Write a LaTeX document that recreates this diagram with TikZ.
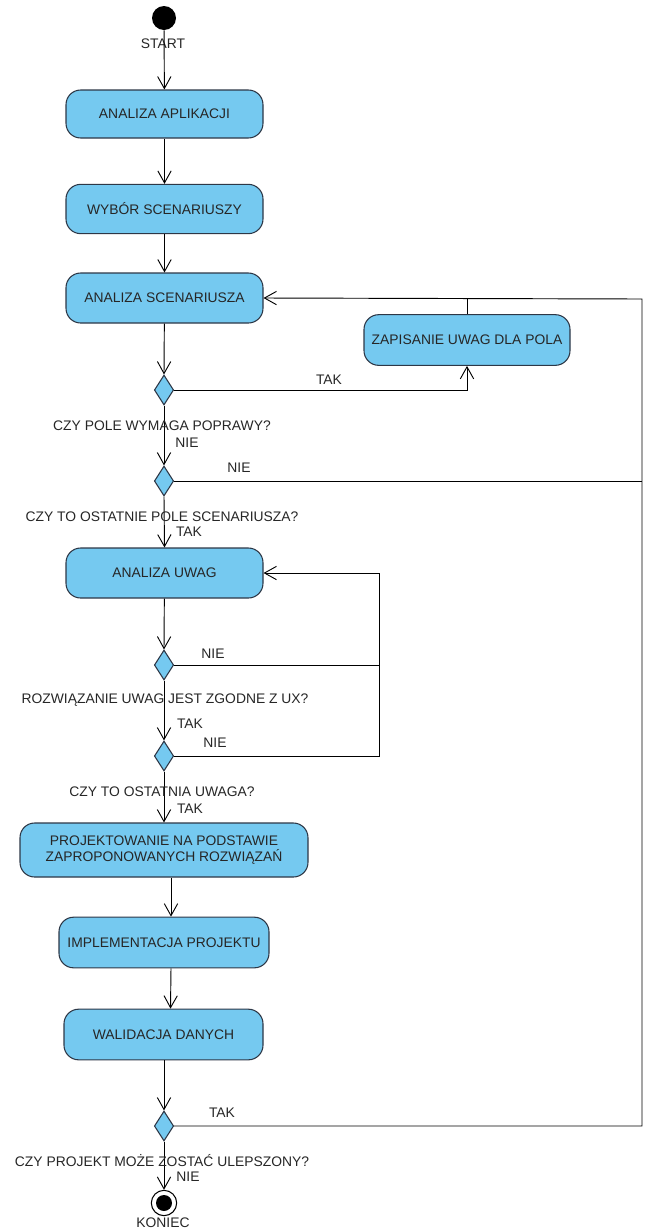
\documentclass[tikz,border=0pt]{standalone}
\usepackage{fontspec}
\setmainfont{Liberation Sans}
\usetikzlibrary{arrows.meta,shapes.geometric}
\definecolor{boxblue}{RGB}{117,201,240}
\definecolor{edgegray}{RGB}{45,55,70}
\begin{document}
\begin{tikzpicture}[x=0.75pt,y=-0.75pt,line width=0.7pt,>={Straight Barb[length=9pt,width=10pt]},
	every node/.style={font=\fontsize{10.4}{12.5}\selectfont,text=black!85},
	akcja/.style={draw=edgegray,fill=boxblue,rounded corners=11pt,line width=0.8pt,align=center,inner sep=2pt},
	decyzja/.style={draw=edgegray,fill=boxblue,diamond,line width=0.8pt,minimum width=14.5pt,minimum height=22.5pt,inner sep=0pt},
	opis/.style={inner sep=0pt}]
	\useasboundingbox (0,0) rectangle (644,1232);
	\def\xr{642} % prawa linia powrotu
	\def\xu{379} % linia powrotu uwag
	% start i akcje
	\node[circle,fill=black,minimum size=18pt,inner sep=0pt] (start) at (164,18) {};
	\node[opis] (startlbl) at (163,44) {START};
	\node[akcja,minimum width=147.75pt,minimum height=36pt] (app) at (164.5,114) {ANALIZA APLIKACJI};
	\node[akcja,minimum width=147.75pt,minimum height=37pt] (wyb) at (164.5,209) {WYBÓR SCENARIUSZY};
	\node[akcja,minimum width=147.75pt,minimum height=37.5pt] (scen) at (164.5,298) {ANALIZA SCENARIUSZA};
	\node[akcja,minimum width=154.5pt,minimum height=38pt] (zap) at (467,340) {ZAPISANIE UWAG DLA POLA};
	\node[decyzja] (d1) at (164,390) {};
	\node[decyzja] (d2) at (164,481) {};
	\node[akcja,minimum width=147.75pt,minimum height=37.5pt] (uwag) at (164.5,573) {ANALIZA UWAG};
	\node[decyzja] (d3) at (164,665) {};
	\node[decyzja] (d4) at (164,756) {};
	\node[akcja,minimum width=216pt,minimum height=40.5pt] (proj) at (164,850) {PROJEKTOWANIE NA PODSTAWIE\\ZAPROPONOWANYCH ROZWIĄZAŃ};
	\node[akcja,minimum width=157.5pt,minimum height=38pt] (impl) at (164,942.5) {IMPLEMENTACJA PROJEKTU};
	\node[akcja,minimum width=149.25pt,minimum height=38pt] (wal) at (163.5,1034.5) {WALIDACJA DANYCH};
	\node[decyzja] (d5) at (164,1126) {};
	\node[circle,draw=black,line width=0.8pt,minimum size=19pt,inner sep=0pt] (koniec) at (164,1203) {};
	\fill[black] (koniec.center) circle (6pt);
	\node[opis] (konieclbl) at (163,1223) {KONIEC};
	% punkty zalaman
	\coordinate (rtop) at (\xr,299);
	\coordinate (zaptop) at (467,299);
	\coordinate (utop) at (\xu,573);
	% strzalki glowne
	\draw[->] (start) -- (app);
	\draw[->] (app) -- (wyb);
	\draw[->] (wyb) -- (scen);
	\draw[->] (scen) -- (d1.north);
	\draw[->] (d1.east) -| (zap.south);
	\draw (zap.north) -- (zaptop);
	\draw[->] (d1.south) -- (d2.north);
	\draw (d2.east) -- (d2.east -| rtop);
	\draw[->] (d5.east) -| (rtop) -- (scen.east);
	\draw[->] (d2.south) -- (uwag.north);
	\draw[->] (uwag) -- (d3.north);
	\draw[->] (d4.east) -| (utop) -- (uwag.east);
	\draw (d3.east) -- (d3.east -| utop);
	\draw[->] (d3.south) -- (d4.north);
	\draw[->] (d4.south) -- (proj.north);
	\draw[->] ([xshift=5.25pt]proj.south) -- ([xshift=5.25pt]impl.north);
	\draw[->] ([xshift=5.25pt]impl.south) -- ([xshift=5.25pt]wal.north);
	\draw[->] (wal.south -| d5) -- (d5.north);
	\draw[->] (d5.south) -- (koniec.north);
	% opisy decyzji
	\node[opis] (t1) at (329,380) {TAK};
	\node[opis] (q1) at (162,426) {CZY POLE WYMAGA POPRAWY?};
	\node[opis] (n1) at (187,443) {NIE};
	\node[opis] (n2) at (239,468) {NIE};
	\node[opis] (q2) at (162,517) {CZY TO OSTATNIE POLE SCENARIUSZA?};
	\node[opis] (t2) at (189,532) {TAK};
	\node[opis] (n3) at (213,654) {NIE};
	\node[opis] (q3) at (165,700) {ROZWIĄZANIE UWAG JEST ZGODNE Z UX?};
	\node[opis] (t3) at (190,724) {TAK};
	\node[opis] (n4) at (215,743) {NIE};
	\node[opis] (q4) at (162,792) {CZY TO OSTATNIA UWAGA?};
	\node[opis] (t4) at (190,809) {TAK};
	\node[opis] (t5) at (222,1113) {TAK};
	\node[opis] (q5) at (162,1161) {CZY PROJEKT MOŻE ZOSTAĆ ULEPSZONY?};
	\node[opis] (n5) at (188,1177) {NIE};
\end{tikzpicture}
\end{document}
